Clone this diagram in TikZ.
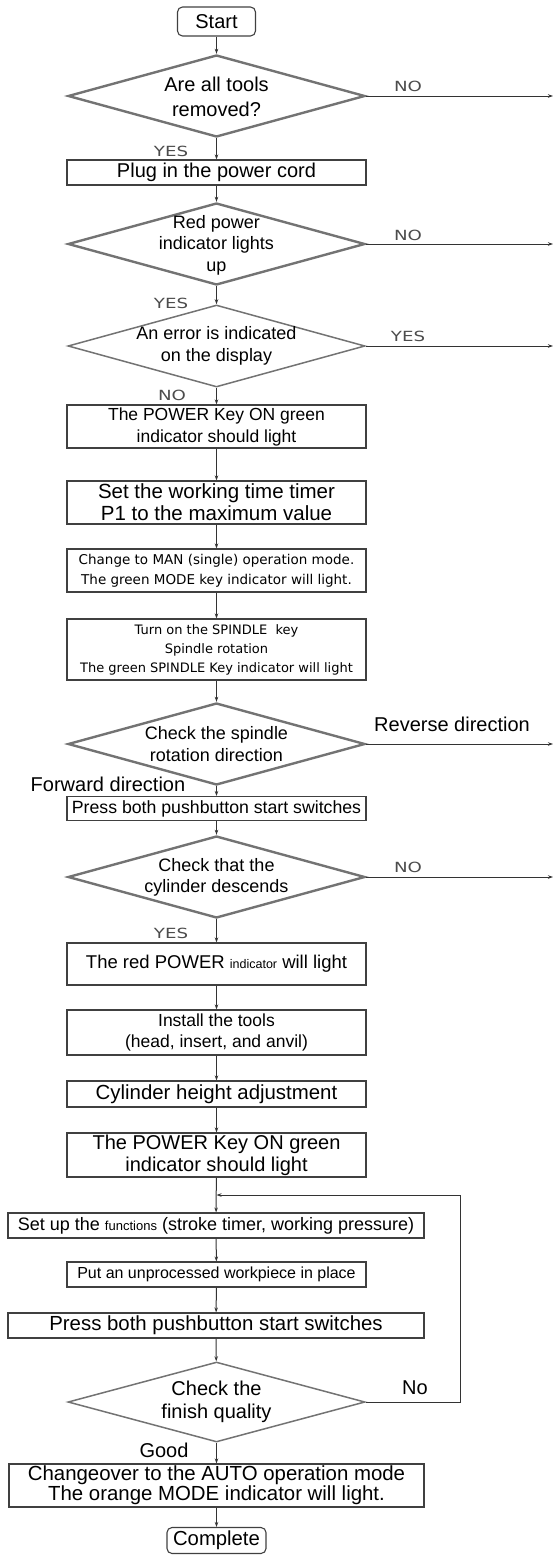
\documentclass[tikz,border=0pt]{standalone}
\usepackage{fontspec}
\setmainfont{Liberation Sans}
\newfontfamily\yesnofont[FakeStretch=1.3]{DejaVu Sans}
\newfontfamily\smallfont{DejaVu Sans}
\usetikzlibrary{shapes.geometric,arrows.meta}

\tikzset{
  box/.style={rectangle, draw=black!75, line width=1.1pt, minimum height=25pt, minimum width=299pt, inner sep=0pt, align=center},
  wide box/.style={box, minimum width=416pt},
  decision/.style={diamond, draw=black!55, line width=2.4pt, minimum width=297pt, minimum height=82pt, inner sep=0pt},
  decision thin/.style={decision, line width=1.5pt},
  dtext/.style={align=center, inner sep=0pt},
  terminal/.style={rectangle, rounded corners=5pt, draw=black!75, line width=1.1pt, minimum height=26pt, inner sep=0pt},
  yesno/.style={text=black!70, font=\yesnofont\fontsize{14}{16}\selectfont, inner sep=0pt},
  tag/.style={inner sep=0pt, font=\fontsize{20}{22}\selectfont},
  flow/.style={->, draw=black!80, line width=1pt}
}

\begin{document}
\begin{tikzpicture}[x=1pt, y=-1pt, >={Stealth[length=5pt, width=3.5pt]}]
  \useasboundingbox (0,0) rectangle (555,1555);

  \node (start) [terminal, minimum width=78pt, minimum height=29pt, font=\fontsize{20}{22}\selectfont] at (216.5, 21.5) {Start};

  % tools check
  \node (d1) [decision] at (216.5, 96) {};
  \node (d1t) [dtext, font=\fontsize{20}{25}\selectfont] at (216.5, 97) {Are all tools\\removed?};
  \node (no1) [yesno] at (408, 86) {NO};
  \node (yes1) [yesno] at (171, 151) {YES};
  \coordinate (e1) at (553, 96);

  \node (plug) [box, font=\fontsize{20}{22}\selectfont] at (216.5, 172.5) {Plug in the power cord};

  % power indicator
  \node (d2) [decision] at (216.5, 244) {};
  \node (d2t) [dtext, font=\fontsize{18}{21.5}\selectfont] at (216.5, 245) {Red power\\indicator lights\\up};
  \node (no2) [yesno] at (408, 235) {NO};
  \node (yes2) [yesno] at (171, 303) {YES};
  \coordinate (e2) at (553, 244);

  \node (d3) [decision thin] at (216.5, 346) {};
  \node (d3t) [dtext, font=\fontsize{18}{22}\selectfont] at (216.5, 346) {An error is indicated\\on the display};
  \node (yes3) [yesno] at (408, 336) {YES};
  \node (no3) [yesno] at (172, 395) {NO};
  \coordinate (e3) at (553, 346);

  \node (keyon) [box, minimum height=43pt, font=\fontsize{17.5}{22}\selectfont] at (216.5, 426.5) {The POWER Key ON green\\indicator should light};
  \node (timer) [box, minimum height=43pt, font=\fontsize{20.5}{22}\selectfont] at (216.5, 502.5) {Set the working time timer\\P1 to the maximum value};
  \node (man) [box, minimum height=43pt, font=\smallfont\fontsize{13.5}{20}\selectfont] at (216.5, 570.5) {Change to MAN (single) operation mode.\\The green MODE key indicator will light.};
  \node (spindle) [box, minimum height=61pt, font=\smallfont\fontsize{13}{19}\selectfont] at (216.5, 649.5) {Turn on the SPINDLE\ \ key\\Spindle rotation\\The green SPINDLE Key indicator will light};

  % rotation check
  \node (d4) [decision] at (216.5, 744) {};
  \node (d4t) [dtext, font=\fontsize{18}{22}\selectfont] at (216.5, 744) {Check the spindle\\rotation direction};
  \node (rev) [tag] at (452, 724) {Reverse direction};
  \node (fwd) [tag] at (108, 784) {Forward direction};
  \coordinate (e4) at (553, 744);

  \node (press1) [box, minimum height=24pt, font=\fontsize{17.7}{20}\selectfont] at (216.5, 808.5) {Press both pushbutton start switches};

  % cylinder check
  \node (d5) [decision] at (216.5, 877) {};
  \node (d5t) [dtext, font=\fontsize{18}{21}\selectfont] at (216.5, 877) {Check that the\\cylinder descends};
  \node (no5) [yesno] at (408, 867) {NO};
  \node (yes5) [yesno] at (171, 933) {YES};
  \coordinate (e5) at (553, 877);

  \node (redpow) [box, minimum height=42pt, font=\fontsize{18.5}{22}\selectfont] at (216.5, 964) {The red POWER {\fontsize{12.5}{14}\selectfont indicator} will light};
  \node (tools) [box, minimum height=45pt, font=\fontsize{17.5}{21}\selectfont] at (216.5, 1032.5) {Install the tools\\(head, insert, and anvil)};
  \node (height) [box, minimum height=26pt, font=\fontsize{20.4}{22}\selectfont] at (216.5, 1094) {Cylinder height adjustment};
  \node (keyon2) [box, minimum height=44pt, font=\fontsize{20}{22}\selectfont] at (216.5, 1155) {The POWER Key ON green\\indicator should light};

  \coordinate (loopin) at (216.5, 1195);
  \coordinate (loopc) at (460, 1195);

  \node (setup) [wide box, font=\fontsize{18}{20}\selectfont] at (216, 1225.5) {Set up the {\fontsize{13}{14}\selectfont functions} (stroke timer, working pressure)};
  \node (place) [box, font=\fontsize{16}{18}\selectfont] at (216.5, 1274.5) {Put an unprocessed workpiece in place};
  \node (press2) [wide box, font=\fontsize{20.4}{22}\selectfont] at (216, 1325.5) {Press both pushbutton start switches};

  % quality check
  \node (d6) [decision thin, minimum height=80pt] at (216.5, 1402) {};
  \node (d6t) [dtext, font=\fontsize{20}{23}\selectfont] at (216.5, 1402) {Check the\\finish quality};
  \node (nogood) [tag] at (415, 1388) {No};
  \node (good) [tag] at (164, 1450) {Good};

  \node (auto) [wide box, minimum width=415pt, minimum height=43pt, font=\fontsize{20.4}{20}\selectfont] at (216.5, 1485.5) {Changeover to the AUTO operation mode\\The orange MODE indicator will light.};
  \node (done) [terminal, minimum width=99pt, font=\fontsize{20.3}{22}\selectfont] at (216.5, 1540.5) {Complete};

  % main column
  \draw[flow] (start) -- (d1);
  \draw[flow] (d1) -- (plug);
  \draw[flow] (plug) -- (d2);
  \draw[flow] (d2) -- (d3);
  \draw[flow] (d3) -- (keyon);
  \draw[flow] (keyon) -- (timer);
  \draw[flow] (timer) -- (man);
  \draw[flow] (man) -- (spindle);
  \draw[flow] (spindle) -- (d4);
  \draw[flow] (d4) -- (press1);
  \draw[flow] (press1) -- (d5);
  \draw[flow] (d5) -- (redpow);
  \draw[flow] (redpow) -- (tools);
  \draw[flow] (tools) -- (height);
  \draw[flow] (height) -- (keyon2);
  \draw[flow] (keyon2) -- (setup);
  \draw[flow] (setup) -- (place);
  \draw[flow] (place) -- (press2);
  \draw[flow] (press2) -- (d6);
  \draw[flow] (d6) -- (auto);
  \draw[flow] (auto) -- (done);

  % side exits
  \draw[flow] (d1.east) -- (e1);
  \draw[flow] (d2.east) -- (e2);
  \draw[flow] (d3.east) -- (e3);
  \draw[flow] (d4.east) -- (e4);
  \draw[flow] (d5.east) -- (e5);

  % retry loop
  \draw[flow] (d6.east) -| (loopc) -- (loopin);
\end{tikzpicture}
\end{document}
